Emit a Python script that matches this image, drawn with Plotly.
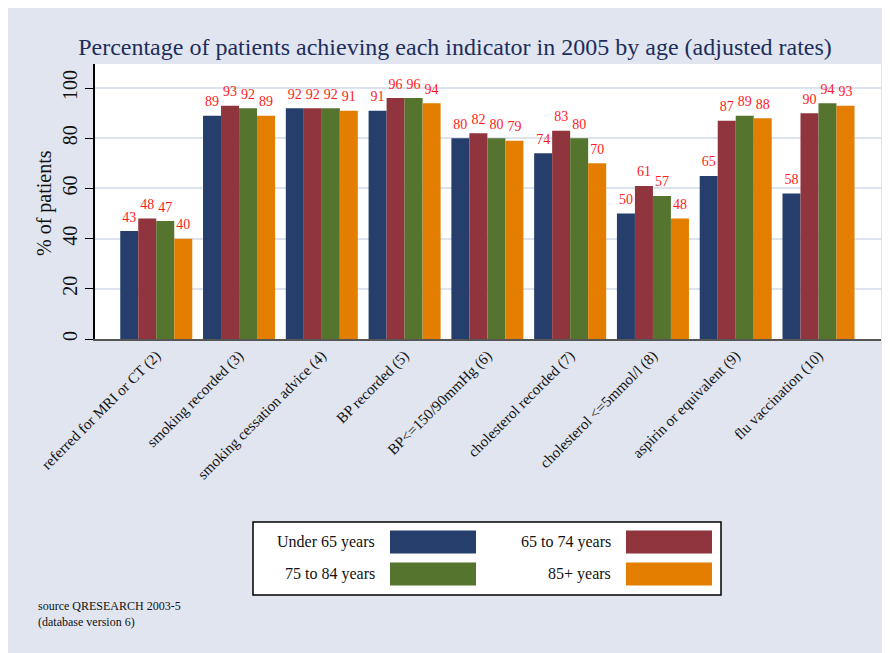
import plotly.graph_objects as go

indicators = ['referred for MRI or CT (2)', 'smoking recorded (3)', 'smoking cessation advice (4)',
              'BP recorded (5)', 'BP<=150/90mmHg (6)', 'cholesterol recorded (7)',
              'cholesterol <=5mmol/l (8)', 'aspirin or equivalent (9)', 'flu vaccination (10)']
age_groups = ['Under 65 years', '65 to 74 years', '75 to 84 years', '85+ years']
under65 = [43, 89, 92, 91, 80, 74, 50, 65, 58]
age65_74 = [48, 93, 92, 96, 82, 83, 61, 87, 90]
age75_84 = [47, 92, 92, 96, 80, 80, 57, 89, 94]
age85 = [40, 89, 91, 94, 79, 70, 48, 88, 93]
colors = ['#263E6C', '#90353D', '#55752F', '#E37E00']

W, H = 890, 653
OFF = 8  # page margin of the browser
L, R, T, B = 87, 17, 56, 322
PW, PH = W - L - R, H - T - B
FONT = 'Liberation Serif'
BG = '#E0E5F0'


# screen pixel -> paper coordinates
def px(x):
    return (x - OFF - L) / PW


def py(y):
    return (H - B - (y - OFF)) / PH


xs = list(range(len(indicators)))
fig = go.Figure()
for name, vals, c in zip(age_groups, [under65, age65_74, age75_84, age85], colors):
    fig.add_trace(go.Bar(x=xs, y=vals, name=name, offsetgroup=name,
                         marker=dict(color=c, line=dict(width=0)), showlegend=False))
for name, vals in zip(age_groups, [under65, age65_74, age75_84, age85]):
    fig.add_trace(go.Scatter(x=xs, y=vals, offsetgroup=name, mode='markers+text',
                             marker=dict(size=8, opacity=0), text=[str(v) for v in vals],
                             textposition='top center', hoverinfo='skip',
                             textfont=dict(family=FONT, size=14, color='#FF1A1A'),
                             cliponaxis=False, showlegend=False))

shapes = [
    dict(type='rect', xref='paper', yref='paper', x0=px(253), x1=px(721), y0=py(595), y1=py(522),
         fillcolor='white', line=dict(color='black', width=1.5)),
]
annotations = []
leg_pos = [(377, 390, 542), (613, 626, 542), (377, 390, 574), (613, 626, 574)]
for (tx, sx, cy), name, c in zip(leg_pos, age_groups, colors):
    shapes.append(dict(type='rect', xref='paper', yref='paper', x0=px(sx), x1=px(sx + 86),
                       y0=py(cy + 11.5), y1=py(cy - 11.5), fillcolor=c, line=dict(width=0)))
    annotations.append(dict(text=name, xref='paper', yref='paper', x=px(tx), y=py(cy),
                            xanchor='right', yanchor='middle', showarrow=False,
                            font=dict(family=FONT, size=16, color='#111')))

annotations.append(dict(text='% of patients', xref='paper', yref='paper', x=px(45), y=py(203),
                        textangle=-90, xanchor='center', yanchor='middle', showarrow=False,
                        font=dict(family=FONT, size=20, color='#111')))
annotations.append(dict(text='source QRESEARCH 2003-5<br>(database version 6)', xref='paper',
                        yref='paper', x=px(36), y=py(597), xanchor='left', yanchor='top',
                        align='left', showarrow=False,
                        font=dict(family=FONT, size=12, color='#111')))

fig.update_layout(
    width=W, height=H,
    margin=dict(l=L, r=R, t=T, b=B),
    paper_bgcolor=BG, plot_bgcolor='white',
    barmode='group', bargap=0.13, bargroupgap=0,
    scattermode='group', scattergap=0.13,
    title=dict(text='Percentage of patients achieving each indicator in 2005 by age (adjusted rates)',
               x=(455 - OFF) / W, xanchor='center', y=1 - (47 - OFF) / H, yanchor='middle',
               font=dict(family=FONT, size=24, color='#1E2D5A')),
    xaxis=dict(range=[-0.74, 8.755], tickmode='array', tickvals=xs,
               ticktext=indicators, tickangle=-45, showgrid=False, showline=True,
               linecolor='#555', linewidth=2, ticks='',
               tickfont=dict(family=FONT, size=15, color='#111')),
    yaxis=dict(range=[0, 109.6], tickvals=[0, 20, 40, 60, 80, 100], tickangle=-90,
               showgrid=True, gridcolor='#DCE2EE', gridwidth=2, zeroline=False,
               showline=True, linecolor='black', linewidth=1.5, ticks='outside',
               ticklen=8, tickcolor='black',
               tickfont=dict(family=FONT, size=20, color='#111')),
    shapes=shapes, annotations=annotations,
)

fig.write_html('out.html')
